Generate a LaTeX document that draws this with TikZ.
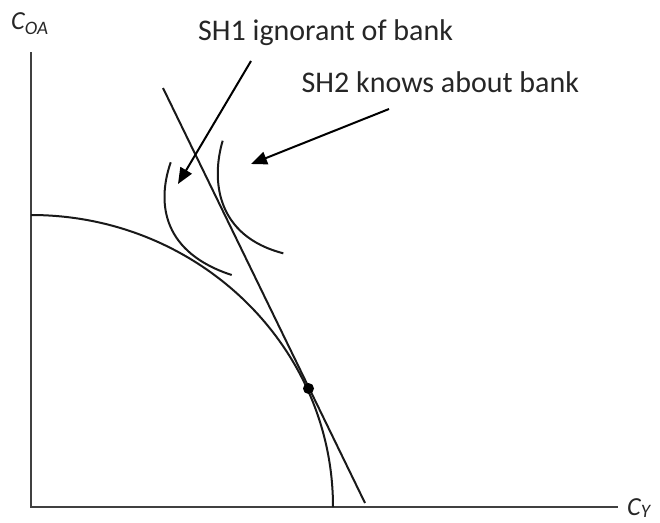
\documentclass[tikz,border=0pt]{standalone}
\usepackage{fontspec}
\setmainfont{Carlito}
\usetikzlibrary{arrows.meta}
\tikzset{
  axis/.style={draw=black!75, line width=2.2pt},
  curve/.style={draw=black!90, line width=2pt},
  pointer/.style={draw=black, line width=2pt, -{Triangle[length=16pt,width=13pt]}},
  lbl/.style={anchor=base west, inner sep=0pt, text=black!85, font=\fontsize{30}{34}\selectfont},
  axlbl/.style={anchor=base west, inner sep=0pt, text=black!85},
}
\begin{document}
\begin{tikzpicture}[x=1pt,y=-1pt]
\useasboundingbox (0,0) rectangle (660,522);
% axes
\coordinate (O) at (31,507);
\coordinate (ytop) at (31,52);
\coordinate (xend) at (618,507);
\draw[axis] (ytop) -- (O) -- (xend);
\node[axlbl] (ylab) at (11,29.5)
  {\fontsize{26}{30}\selectfont\itshape C\fontsize{19}{22}\selectfont\raisebox{-5pt}{OA}};
\node[axlbl] (xlab) at (627,515)
  {\fontsize{26}{30}\selectfont\itshape C\fontsize{19}{22}\selectfont\raisebox{-2.5pt}{Y}};
% production possibility frontier (quarter ellipse)
\draw[curve] (31,215) arc[start angle=90, end angle=0, x radius=302, y radius=-292];
% tangent line
\coordinate (tA) at (163,88);
\coordinate (tB) at (365,503);
\draw[curve] (tA) -- (tB);
% tangency point
\node[circle, fill=black, inner sep=0pt, minimum size=11pt] (E) at (308.5,388.5) {};
% indifference curves
\coordinate (i1s) at (170.7,162.3);
\coordinate (i1e) at (231.7,275);
\draw[curve] (i1s) .. controls (156,205) and (164,253) .. (i1e);
\coordinate (i2s) at (222.7,140.7);
\coordinate (i2e) at (283.3,253.3);
\draw[curve] (i2s) .. controls (211,180) and (216,236) .. (i2e);
% labels
\node[lbl] (sh1) at (198,40) {SH1 ignorant of bank};
\node[lbl] (sh2) at (301.5,92.5) {SH2 knows about bank};
\coordinate (a1s) at (251,61);
\coordinate (a1e) at (178,184);
\coordinate (a2s) at (389,109);
\coordinate (a2e) at (251,164);
\draw[pointer] (a1s) -- (a1e);
\draw[pointer] (a2s) -- (a2e);
\end{tikzpicture}
\end{document}
